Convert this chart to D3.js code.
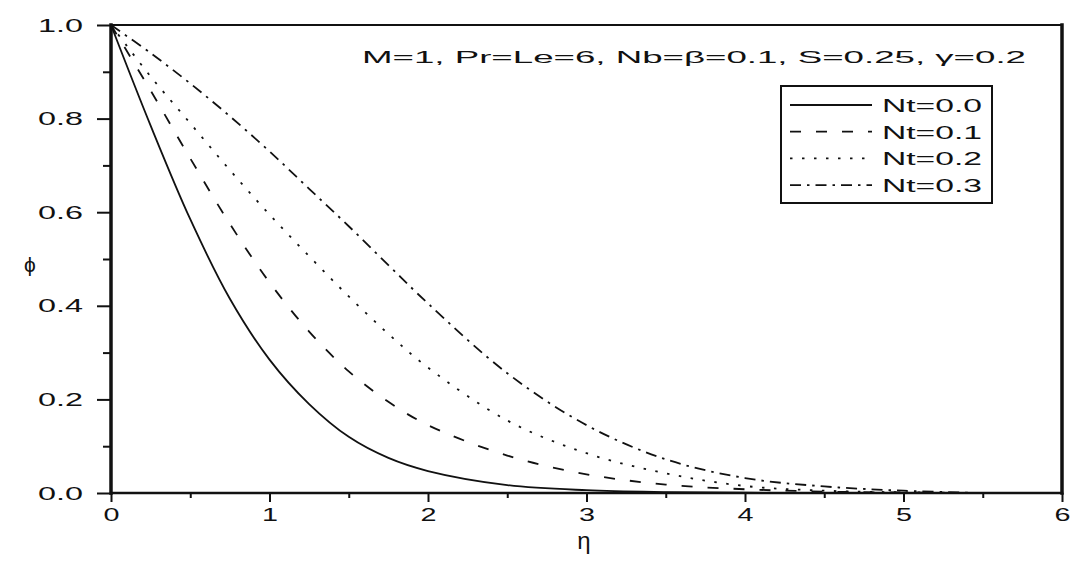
<!DOCTYPE html>
<html>
<head>
<meta charset="utf-8">
<script src="https://cdn.jsdelivr.net/npm/d3@7"></script>
<style>
  body { margin: 0; background: #fff; }
  svg { display: block; }
</style>
</head>
<body>
<div id="wrapper"></div>
<script>
// 1. Data
const etaValues = [0, 0.25, 0.5, 0.75, 1, 1.25, 1.5, 1.75, 2, 2.5, 3, 3.5, 4, 4.5, 5, 5.5]
const phiNt00 = [1, 0.785, 0.585, 0.415, 0.285, 0.19, 0.12, 0.075, 0.047, 0.017, 0.006, 0.002, 0.0005, 0, 0, 0]
const phiNt01 = [1, 0.86, 0.715, 0.575, 0.45, 0.345, 0.26, 0.195, 0.145, 0.08, 0.04, 0.018, 0.008, 0.003, 0.001, 0]
const phiNt02 = [1, 0.89, 0.79, 0.69, 0.595, 0.506, 0.42, 0.34, 0.268, 0.155, 0.085, 0.042, 0.015, 0.005, 0.0015, 0]
const phiNt03 = [1, 0.94, 0.875, 0.805, 0.73, 0.65, 0.57, 0.487, 0.405, 0.256, 0.145, 0.072, 0.032, 0.014, 0.005, 0]
const seriesNames = ["Nt=0.0", "Nt=0.1", "Nt=0.2", "Nt=0.3"]
const seriesValues = [phiNt00, phiNt01, phiNt02, phiNt03]
const xTicks = [0, 1, 2, 3, 4, 5, 6]
const yTicks = [0, 0.2, 0.4, 0.6, 0.8, 1.0]
const annotation = "M=1, Pr=Le=6, Nb=β=0.1, S=0.25, γ=0.2"

const dashes = [null, "11,15", "2.5,9.5", "11,6,2.5,6"]

// 2. Dimensions
const dimensions = {
  width: 1072,
  height: 563,
  margins: { top: 25, right: 10, bottom: 70, left: 111 },
}
dimensions.boundedWidth = dimensions.width - dimensions.margins.left - dimensions.margins.right
dimensions.boundedHeight = dimensions.height - dimensions.margins.top - dimensions.margins.bottom

const font = "'Liberation Sans', Arial, sans-serif"
const ink = "#111"

// 3. Canvas
const wrapper = d3.select("#wrapper")
  .append("svg")
  .attr("width", dimensions.width)
  .attr("height", dimensions.height)

const bounds = wrapper.append("g")
  .attr("transform", `translate(${dimensions.margins.left},${dimensions.margins.top})`)

// 4. Scales
const xScale = d3.scaleLinear().domain([0, 6]).range([0, dimensions.boundedWidth])
const yScale = d3.scaleLinear().domain([0, 1]).range([dimensions.boundedHeight, 0])

// 5. Curves
const lineGenerator = d3.line()
  .x(d => xScale(d[0]))
  .y(d => yScale(d[1]))
  .curve(d3.curveCatmullRom.alpha(0.5))

seriesValues.forEach((vals, i) => {
  bounds.append("path")
    .datum(etaValues.map((e, j) => [e, vals[j]]))
    .attr("d", lineGenerator)
    .attr("fill", "none")
    .attr("stroke", ink)
    .attr("stroke-width", 1.8)
    .attr("stroke-dasharray", dashes[i])
})

// 6. Axes
const yAxisMinor = bounds.append("g")
  .call(d3.axisLeft(yScale).tickValues(d3.range(0.1, 1, 0.2)).tickSize(8).tickFormat(""))
const yAxis = bounds.append("g")
  .call(d3.axisLeft(yScale).tickValues(yTicks).tickSize(14).tickPadding(14).tickFormat(d3.format(".1f")))
const xAxisMinor = bounds.append("g")
  .attr("transform", `translate(0,${dimensions.boundedHeight})`)
  .call(d3.axisBottom(xScale).tickValues(d3.range(0.5, 6, 1)).tickSize(5).tickFormat(""))
const xAxis = bounds.append("g")
  .attr("transform", `translate(0,${dimensions.boundedHeight})`)
  .call(d3.axisBottom(xScale).tickValues(xTicks).tickSize(9).tickPadding(6).tickFormat(d3.format("d")))

;[yAxisMinor, yAxis, xAxisMinor, xAxis].forEach(ax => {
  ax.select(".domain").remove()
  ax.selectAll("line").attr("stroke", ink).attr("stroke-width", 2)
})
yAxis.selectAll("text")
  .attr("font-family", font).attr("font-size", 19).attr("fill", ink)
  .attr("textLength", 45).attr("lengthAdjust", "spacingAndGlyphs")
xAxis.selectAll("text")
  .attr("font-family", font).attr("font-size", 19).attr("fill", ink)
  .attr("textLength", 16).attr("lengthAdjust", "spacingAndGlyphs")

// frame
const frame = [
  { x1: 0, y1: 0, x2: 0, y2: dimensions.boundedHeight, w: 3.5 },
  { x1: 0, y1: dimensions.boundedHeight, x2: dimensions.boundedWidth, y2: dimensions.boundedHeight, w: 2.5 },
  { x1: 0, y1: 0, x2: dimensions.boundedWidth, y2: 0, w: 2 },
  { x1: dimensions.boundedWidth, y1: 0, x2: dimensions.boundedWidth, y2: dimensions.boundedHeight, w: 3.5 },
]
bounds.selectAll(".frame").data(frame).join("line")
  .attr("class", "frame")
  .attr("x1", d => d.x1).attr("y1", d => d.y1)
  .attr("x2", d => d.x2).attr("y2", d => d.y2)
  .attr("stroke", ink).attr("stroke-width", d => d.w)
  .attr("stroke-linecap", "square")

// axis titles
wrapper.append("text")
  .text("η")
  .attr("x", 584).attr("y", 549)
  .attr("text-anchor", "middle")
  .attr("font-family", font).attr("font-size", 24).attr("fill", ink)
wrapper.append("text")
  .text("ϕ")
  .attr("x", 30).attr("y", 272)
  .attr("text-anchor", "middle")
  .attr("font-family", font).attr("font-size", 21).attr("fill", ink)

// 7. Annotation and legend
wrapper.append("text")
  .text(annotation)
  .attr("x", 362).attr("y", 63)
  .attr("font-family", font).attr("font-size", 17).attr("fill", ink)
  .attr("textLength", 664).attr("lengthAdjust", "spacingAndGlyphs")

const legend = wrapper.append("g").attr("transform", "translate(781,86)")
legend.append("rect")
  .attr("width", 211).attr("height", 117)
  .attr("fill", "#fff").attr("stroke", ink).attr("stroke-width", 2)

const legendItems = legend.selectAll(".item")
  .data(seriesNames)
  .join("g")
  .attr("class", "item")
  .attr("transform", (d, i) => `translate(0,${19 + i * 26.7})`)

legendItems.append("line")
  .attr("x1", 9).attr("x2", 91)
  .attr("stroke", ink).attr("stroke-width", 1.8)
  .attr("stroke-dasharray", (d, i) => dashes[i])
legendItems.append("text")
  .text(d => d)
  .attr("x", 101).attr("y", 7)
  .attr("font-family", font).attr("font-size", 19).attr("fill", ink)
  .attr("textLength", 100).attr("lengthAdjust", "spacingAndGlyphs")
</script>
</body>
</html>
